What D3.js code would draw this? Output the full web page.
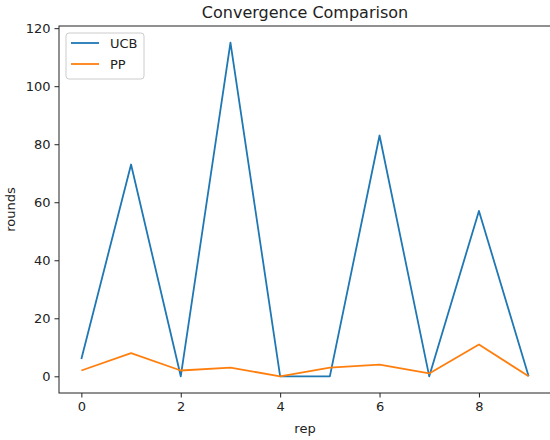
<!DOCTYPE html>
<html>
<head>
<meta charset="utf-8">
<script src="https://cdn.jsdelivr.net/npm/d3@7"></script>
<style>
  body { margin: 0; background: #fff; }
  svg { display: block; font-family: "DejaVu Sans", sans-serif; }
</style>
</head>
<body>
<div id="chart"></div>
<script>
const reps = [0, 1, 2, 3, 4, 5, 6, 7, 8, 9];
const ucbRounds = [6, 73, 0, 115, 0, 0, 83, 0, 57, 0];
const ppRounds = [2, 8, 2, 3, 0, 3, 4, 1, 11, 0];
const xTicks = [0, 2, 4, 6, 8];
const yTicks = [0, 20, 40, 60, 80, 100, 120];
const seriesNames = ['UCB', 'PP'];

const width = 550;
const height = 440;
const margin = {top: 26, right: -1, bottom: 47, left: 59};
const innerW = width - margin.left - margin.right;
const innerH = height - margin.top - margin.bottom;

const color = d3.scaleOrdinal()
    .domain(seriesNames)
    .range(['#1f77b4', '#ff7f0e']);

const svg = d3.select('#chart')
    .append('svg')
    .attr('width', width)
    .attr('height', height);

const g = svg.append('g')
    .attr('transform', `translate(${margin.left},${margin.top})`);

// matplotlib-style 5% padding on both axes
const xPad = (d3.max(reps) - d3.min(reps)) * 0.05;
const x = d3.scaleLinear()
    .domain([d3.min(reps) - xPad, d3.max(reps) + xPad])
    .range([0, innerW]);

const yMax = d3.max(ucbRounds.concat(ppRounds));
const yPad = yMax * 0.05;
const y = d3.scaleLinear()
    .domain([-yPad, yMax + yPad])
    .range([innerH, 0]);

const xAxis = g.append('g')
    .attr('transform', `translate(0,${innerH})`)
    .call(d3.axisBottom(x).tickValues(xTicks).tickSize(4.5).tickPadding(4).tickFormat(d3.format('d')));

const yAxis = g.append('g')
    .call(d3.axisLeft(y).tickValues(yTicks).tickSize(4.5).tickPadding(4).tickFormat(d3.format('d')));

[xAxis, yAxis].forEach(a => {
    a.select('.domain').remove();
    a.selectAll('line').attr('stroke', '#222').attr('stroke-width', 1);
    a.selectAll('text').attr('fill', '#222').style('font-size', '13px').style('font-family', '"DejaVu Sans", sans-serif');
});

// frame
g.append('rect')
    .attr('x', 0)
    .attr('y', 0)
    .attr('width', innerW)
    .attr('height', innerH)
    .attr('fill', 'none')
    .attr('stroke', '#222')
    .attr('stroke-width', 1);

const line = d3.line()
    .x((d, i) => x(reps[i]))
    .y(d => y(d));

const series = [
    {name: 'UCB', values: ucbRounds},
    {name: 'PP', values: ppRounds}
];

g.selectAll('.series')
    .data(series)
    .join('path')
    .attr('class', 'series')
    .attr('fill', 'none')
    .attr('stroke', d => color(d.name))
    .attr('stroke-width', 1.8)
    .attr('stroke-linejoin', 'round')
    .attr('d', d => line(d.values));

// title and axis labels
svg.append('text')
    .attr('x', margin.left + innerW / 2)
    .attr('y', 18)
    .attr('text-anchor', 'middle')
    .attr('fill', '#222')
    .style('font-size', '16px')
    .text('Convergence Comparison');

svg.append('text')
    .attr('x', margin.left + innerW / 2)
    .attr('y', 433)
    .attr('text-anchor', 'middle')
    .attr('fill', '#222')
    .style('font-size', '13px')
    .text('rep');

svg.append('text')
    .attr('transform', `translate(15,${margin.top + innerH / 2}) rotate(-90)`)
    .attr('text-anchor', 'middle')
    .attr('fill', '#222')
    .style('font-size', '13px')
    .text('rounds');

// legend
const legend = g.append('g')
    .attr('transform', 'translate(7,7)');

legend.append('rect')
    .attr('width', 78)
    .attr('height', 46)
    .attr('rx', 3)
    .attr('fill', '#fff')
    .attr('fill-opacity', 0.8)
    .attr('stroke', '#ccc')
    .attr('stroke-width', 1);

seriesNames.forEach((name, i) => {
    const ly = 10 + i * 21;
    legend.append('line')
        .attr('x1', 5)
        .attr('x2', 33)
        .attr('y1', ly)
        .attr('y2', ly)
        .attr('stroke', color(name))
        .attr('stroke-width', 1.8);
    legend.append('text')
        .attr('x', 44)
        .attr('y', ly + 4.5)
        .attr('fill', '#222')
        .style('font-size', '13px')
        .text(name);
});
</script>
</body>
</html>
